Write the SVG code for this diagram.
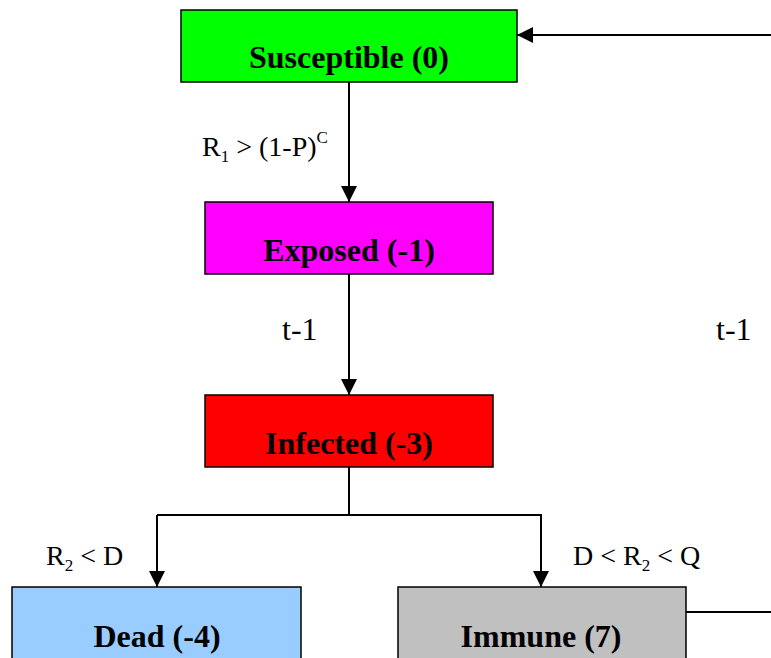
<svg xmlns="http://www.w3.org/2000/svg" width="771" height="658" viewBox="0 0 771 658">
<defs>
<marker id="ah" markerWidth="16" markerHeight="16" refX="16" refY="8" orient="auto" markerUnits="userSpaceOnUse" viewBox="0 0 16 16">
<path d="M0,0 L16,8 L0,16 Z" fill="#000"/>
</marker>
<style>
.box{stroke:#000;stroke-width:1.5}
.nt{font-family:"Liberation Serif",serif;font-weight:bold;font-size:32px;text-anchor:middle}
.lb{font-family:"Liberation Serif",serif;font-size:32px}
.sm{font-family:"Liberation Serif",serif;font-size:28px}
.sub{font-size:17px}
.ln{stroke:#000;stroke-width:2;fill:none}
</style>
</defs>
<rect width="771" height="658" fill="#fff"/>
<g id="susceptible"><rect class="box" x="181" y="10" width="336" height="72" fill="#00FF00"/><text class="nt" x="349" y="68">Susceptible (0)</text></g>
<g id="exposed"><rect class="box" x="205" y="202" width="288" height="72" fill="#FF00FF"/><text class="nt" x="349" y="261">Exposed (-1)</text></g>
<g id="infected"><rect class="box" x="205" y="395" width="288" height="72" fill="#FF0000"/><text class="nt" x="349" y="454">Infected (-3)</text></g>
<g id="dead"><rect class="box" x="12" y="587" width="289" height="80" fill="#99CCFF"/><text class="nt" x="157" y="647">Dead (-4)</text></g>
<g id="immune"><rect class="box" x="398" y="587" width="288" height="80" fill="#C0C0C0"/><text class="nt" x="541" y="647">Immune (7)</text></g>
<g id="connectors">
<line class="ln" x1="349" y1="82" x2="349" y2="202" marker-end="url(#ah)"/>
<line class="ln" x1="349" y1="274" x2="349" y2="395" marker-end="url(#ah)"/>
<polyline class="ln" points="349,467 349,515 157,515"/>
<polyline class="ln" points="157,515 157,587" marker-end="url(#ah)"/>
<polyline class="ln" points="349,515 541,515 541,587" marker-end="url(#ah)"/>
<line class="ln" x1="686" y1="612" x2="771" y2="612"/>
<line class="ln" x1="771" y1="35" x2="517" y2="35" marker-end="url(#ah)"/>
<text class="sm" x="202" y="156">R<tspan class="sub" dy="6">1</tspan><tspan dy="-6"> &gt; (1-P)</tspan><tspan class="sub" dy="-13">C</tspan></text>
<text class="lb" x="282" y="340">t-1</text>
<text class="lb" x="716" y="340">t-1</text>
<text class="sm" x="46" y="565">R<tspan class="sub" dy="6">2</tspan><tspan dy="-6"> &lt; D</tspan></text>
<text class="sm" x="573" y="565">D &lt; R<tspan class="sub" dy="6">2</tspan><tspan dy="-6"> &lt; Q</tspan></text>
</g>
</svg>
